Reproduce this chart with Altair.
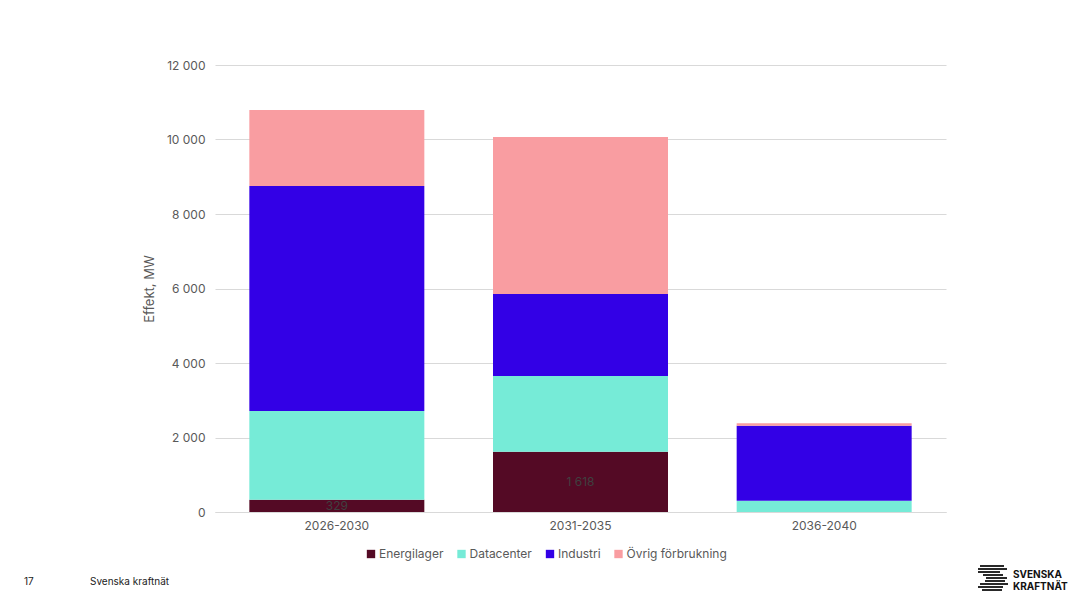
import altair as alt
import pandas as pd

periods = ["2026-2030", "2031-2035", "2036-2040"]
categories = ["Energilager", "Datacenter", "Industri", "Övrig förbrukning"]
colors = ["#540A25", "#76EBD7", "#3300E6", "#F99DA1"]
energilager = [329, 1618, 0]
datacenter = [2383, 2033, 300]
industri = [6040, 2202, 2017]
ovrig = [2041, 4215, 64]

series = [energilager, datacenter, industri, ovrig]
rows = []
for ci, (cat, vals) in enumerate(zip(categories, series)):
    for p, v in zip(periods, vals):
        rows.append({"period": p, "kategori": cat, "värde": v, "ordning": ci})
df = pd.DataFrame(rows)

FONT = "Inter"
GREY = "#595959"

base = alt.Chart(df)

bars = base.mark_bar(size=175).encode(
    x=alt.X("period:N", sort=periods, title=None,
            axis=alt.Axis(labelAngle=0, ticks=False, domainColor="#d9d9d9",
                          labelColor=GREY, labelFontSize=12, labelPadding=8, labelFont=FONT)),
    y=alt.Y("värde:Q", stack="zero", title="Effekt, MW",
            scale=alt.Scale(domain=[0, 12000]),
            axis=alt.Axis(values=[0, 2000, 4000, 6000, 8000, 10000, 12000],
                          labelExpr="replace(format(datum.value, ',.0f'), ',', ' ')",
                          ticks=False, domain=False, gridColor="#d9d9d9",
                          labelColor=GREY, labelFontSize=12, labelPadding=10, labelFont=FONT,
                          titleColor=GREY, titleFontSize=13, titleFontWeight="normal",
                          titlePadding=10, titleFont=FONT)),
    color=alt.Color("kategori:N", sort=categories,
                    scale=alt.Scale(domain=categories, range=colors),
                    legend=alt.Legend(title=None, orient="none", direction="horizontal",
                                      legendX=150, legendY=483, symbolType="square",
                                      symbolSize=70, symbolStrokeWidth=0,
                                      labelColor=GREY, labelFontSize=12, labelFont=FONT,
                                      columnPadding=11.5, symbolOffset=0, labelOffset=2)),
    order=alt.Order("ordning:Q", sort="ascending"),
)

labels = base.transform_filter(
    (alt.datum.kategori == "Energilager") & (alt.datum["värde"] > 0)
).transform_calculate(
    mid="datum['värde'] / 2",
    lbl="replace(format(datum['värde'], ',.0f'), ',', ' ')",
).mark_text(font=FONT, fontSize=12, color="#404040", baseline="middle").encode(
    x=alt.X("period:N", sort=periods),
    y="mid:Q",
    text="lbl:N",
)

f1 = alt.Chart(pd.DataFrame({"t": ["17"]})).mark_text(
    font=FONT, fontSize=10, color="#222222", align="left").encode(
    x=alt.value(-191), y=alt.value(517), text="t:N")
f2 = alt.Chart(pd.DataFrame({"t": ["Svenska kraftnät"]})).mark_text(
    font=FONT, fontSize=10, color="#222222", align="left").encode(
    x=alt.value(-125), y=alt.value(517), text="t:N")
logo1 = alt.Chart(pd.DataFrame({"t": ["SVENSKA"]})).mark_text(
    font=FONT, fontSize=10, fontWeight="bold", color="#111111", align="left").encode(
    x=alt.value(798), y=alt.value(510), text="t:N")
logo2 = alt.Chart(pd.DataFrame({"t": ["KRAFTNÄT"]})).mark_text(
    font=FONT, fontSize=10, fontWeight="bold", color="#111111", align="left").encode(
    x=alt.value(798), y=alt.value(522), text="t:N")

# logo stripes (decorative), pixel positions relative to plot origin
stripe_x1 = [765, 763, 763, 768, 771, 770, 765, 763, 767]
stripe_x2 = [789, 792, 785, 788, 792, 790, 793, 788, 787]
stripe_y = [501, 504, 507, 510, 513, 516, 519, 522, 525]
stripes = []
for a, b, c in zip(stripe_x1, stripe_x2, stripe_y):
    stripes.append(
        alt.Chart(pd.DataFrame({"k": [0]})).mark_rule(color="#111111", strokeWidth=1.8).encode(
            x=alt.value(a), x2=alt.value(b), y=alt.value(c))
    )

chart = alt.layer(bars, labels, f1, f2, logo1, logo2, *stripes).properties(
    width=731, height=447,
    autosize=alt.AutoSizeParams(type="none"),
    padding={"left": 215, "top": 65, "right": 143, "bottom": 100},
).configure(font=FONT).configure_view(stroke=None, strokeWidth=0)

chart.save("out.html", embed_options={"renderer": "svg", "actions": False})
